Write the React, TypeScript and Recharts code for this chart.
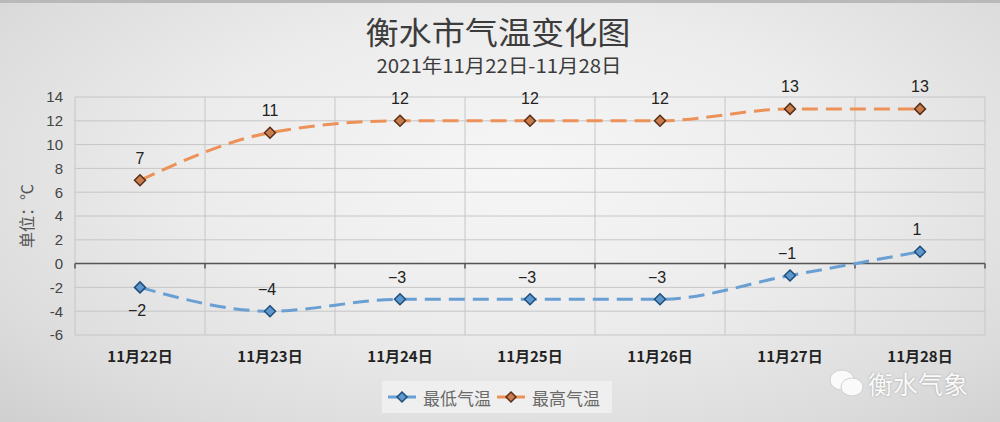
import React from "react";
import { LineChart, Line, XAxis, YAxis, CartesianGrid, ReferenceLine, LabelList, Legend } from "recharts";

const days = ["11月22日", "11月23日", "11月24日", "11月25日", "11月26日", "11月27日", "11月28日"];
const lowTemps = [-2, -4, -3, -3, -3, -1, 1];
const highTemps = [7, 11, 12, 12, 12, 13, 13];
const yTicks = [-6, -4, -2, 0, 2, 4, 6, 8, 10, 12, 14];

const data = days.map((day, i) => ({ day, low: lowTemps[i], high: highTemps[i] }));

const BLUE = "#6a9fd3";
const ORANGE = "#ec9258";
const CJK = "'Noto Sans CJK SC', sans-serif";

function Diamond(props: any) {
  const { cx, cy, fill, stroke } = props;
  if (cx == null || cy == null) return null;
  const r = 5.5;
  return (
    <polygon
      points={`${cx},${cy - r} ${cx + r},${cy} ${cx},${cy + r} ${cx - r},${cy}`}
      fill={fill}
      stroke={stroke}
      strokeWidth={1.5}
    />
  );
}

const fmt = (v: number) => (v < 0 ? "\u2212" + Math.abs(v) : String(v));

function HighLabel(props: any) {
  const { x, y, value } = props;
  return (
    <text x={x} y={y - 22} textAnchor="middle" dominantBaseline="central" fontSize={16} fill="#222" fontFamily="'Liberation Sans', Arial, sans-serif">
      {fmt(value)}
    </text>
  );
}

function LowLabel(props: any) {
  const { x, y, value, index } = props;
  const dy = index === 0 ? 23 : -22;
  return (
    <text x={x - 3} y={y + dy} textAnchor="middle" dominantBaseline="central" fontSize={16} fill="#222" fontFamily="'Liberation Sans', Arial, sans-serif">
      {fmt(value)}
    </text>
  );
}

// zero line drawn darker, with small ticks at the category boundaries
function ZeroAxis(props: any) {
  const { x1, x2, y1 } = props;
  if (x1 == null) return null;
  const step = (x2 - x1) / days.length;
  const ticks = [];
  for (let i = 0; i <= days.length; i++) {
    const x = x1 + step * i;
    ticks.push(<line key={i} x1={x} x2={x} y1={y1} y2={y1 + 5} stroke="#555" strokeWidth={1.5} />);
  }
  return (
    <g>
      <line x1={x1} x2={x2} y1={y1} y2={y1} stroke="#555" strokeWidth={1.5} />
      {ticks}
    </g>
  );
}

function LegendBox() {
  const item = (color: string, dot: string, edge: string, label: string) => (
    <div style={{ display: "flex", alignItems: "center", marginRight: 6 }}>
      <svg width={28} height={14}>
        <line x1={0} x2={28} y1={7} y2={7} stroke={color} strokeWidth={3} />
        <polygon points="14,2 19,7 14,12 9,7" fill={dot} stroke={edge} strokeWidth={1.5} />
      </svg>
      <span style={{ marginLeft: 7, fontSize: 17, color: "#6a6a6a", fontFamily: CJK }}>{label}</span>
    </div>
  );
  return (
    <div style={{ display: "flex", alignItems: "center", background: "#efefef", padding: "3px 6px", height: 26 }}>
      {item(BLUE, "#5e98cf", "#1f4e79", "最低气温")}
      {item(ORANGE, "#c97d4f", "#5a2e16", "最高气温")}
    </div>
  );
}

export default function App() {
  return (
    <div
      style={{
        position: "absolute",
        left: 0,
        top: 0,
        width: 1000,
        height: 422,
        overflow: "hidden",
        background: "radial-gradient(ellipse at 52% 40%, #f6f6f6 0%, #ececec 45%, #dcdcdc 80%, #cfcfcf 100%)",
        borderTop: "3px solid #b9b9b9",
        boxSizing: "border-box",
      }}
    >
      <svg width={1000} height={90} style={{ position: "absolute", left: 0, top: -3 }}>
        <text x={498} y={30} textAnchor="middle" dominantBaseline="central" fontSize={31} fill="#3c3c3c" fontFamily={CJK} textLength={265} lengthAdjust="spacingAndGlyphs">
          衡水市气温变化图
        </text>
        <text x={499} y={64} textAnchor="middle" dominantBaseline="central" fontSize={19} fill="#3c3c3c" fontFamily={CJK} textLength={245} lengthAdjust="spacingAndGlyphs">
          2021年11月22日-11月28日
        </text>
      </svg>
      <div style={{ position: "absolute", left: 0, top: -3 }}>
        <LineChart width={1000} height={422} data={data} margin={{ top: 97, right: 15, left: 15, bottom: 57 }}>
          <CartesianGrid
            stroke="#c6c6c6"
            strokeWidth={1}
            horizontalValues={yTicks}
            verticalCoordinatesGenerator={({ offset }: any) =>
              Array.from({ length: days.length + 1 }, (_, i) => offset.left + (offset.width / days.length) * i)
            }
          />
          <XAxis
            dataKey="day"
            padding={{ left: 65, right: 65 }}
            axisLine={false}
            tickLine={false}
            tickMargin={10}
            interval={0}
            tick={{ fontSize: 15, fontWeight: 700, fill: "#222", fontFamily: CJK }}
          />
          <YAxis
            width={60}
            domain={[-6, 14]}
            ticks={yTicks}
            axisLine={false}
            tickLine={false}
            tickMargin={6}
            tick={{ fontSize: 15, fill: "#444", fontFamily: "'Liberation Sans', Arial, sans-serif" }}
            label={{
              value: "单位：℃",
              angle: -90,
              position: "insideLeft",
              offset: 12,
              style: { fontSize: 16, fill: "#555", fontFamily: CJK, textAnchor: "middle" },
            }}
          />
          <ReferenceLine y={0} shape={ZeroAxis} />
          <Legend verticalAlign="middle" align="center" content={() => <LegendBox />} wrapperStyle={{ top: 381, left: 382, width: "auto" }} />
          <Line
            type="monotone"
            dataKey="low"
            name="最低气温"
            stroke={BLUE}
            strokeWidth={3}
            strokeDasharray="16 8"
            dot={<Diamond fill="#5e98cf" stroke="#1f4e79" />}
            activeDot={false}
            isAnimationActive={false}
          >
            <LabelList dataKey="low" content={<LowLabel />} />
          </Line>
          <Line
            type="monotone"
            dataKey="high"
            name="最高气温"
            stroke={ORANGE}
            strokeWidth={3}
            strokeDasharray="16 8"
            dot={<Diamond fill="#c97d4f" stroke="#5a2e16" />}
            activeDot={false}
            isAnimationActive={false}
          >
            <LabelList dataKey="high" content={<HighLabel />} />
          </Line>
        </LineChart>
      </div>
      <div style={{ position: "absolute", left: 828, top: 362, display: "flex", alignItems: "center" }}>
        <svg width={38} height={32}>
          <ellipse cx={14} cy={13} rx={12} ry={10} fill="#fafafa" stroke="#d0d0d0" />
          <ellipse cx={24} cy={20} rx={11} ry={9} fill="#fafafa" stroke="#d0d0d0" />
        </svg>
        <span style={{ fontSize: 25, color: "#fafafa", fontFamily: CJK, textShadow: "0 0 2px #9a9a9a", marginLeft: 2 }}>衡水气象</span>
      </div>
    </div>
  );
}
